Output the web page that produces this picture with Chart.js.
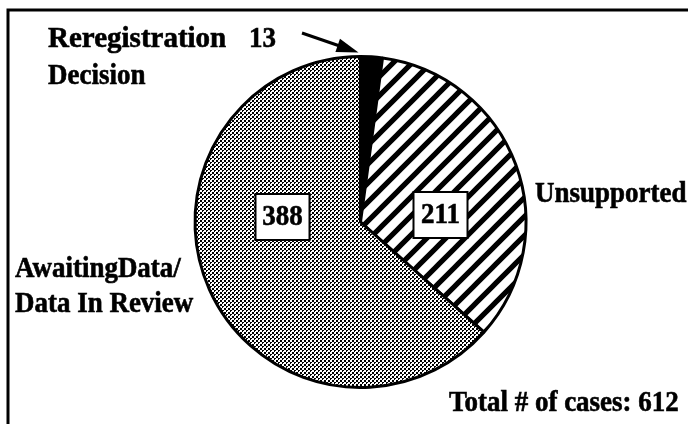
<!DOCTYPE html>
<html>
<head>
<meta charset="utf-8">
<script src="https://cdn.jsdelivr.net/npm/chart.js@4"></script>
<style>
  body { margin: 0; background: #fff; }
  #wrap { width: 688px; height: 424px; }
</style>
</head>
<body>
<div id="wrap"><canvas id="chartCases" width="688" height="424"></canvas></div>
<script>
const categories = ['Reregistration Decision', 'Unsupported', 'AwaitingData/ Data In Review'];
const caseCounts = [13, 211, 388];
const totalLabel = 'Total # of cases: ' + caseCounts.reduce((a, b) => a + b, 0);

const labelFont = 'bold 29px "Liberation Serif", "Times New Roman", serif';

// hatch pattern for Unsupported
function makeHatch() {
    const s = 19;
    const c = document.createElement('canvas');
    c.width = s; c.height = s;
    const g = c.getContext('2d');
    g.fillStyle = '#fff';
    g.fillRect(0, 0, s, s);
    g.strokeStyle = '#000';
    g.lineWidth = 5.2;
    g.beginPath();
    g.moveTo(0, s); g.lineTo(s, 0);
    g.moveTo(-s / 2, s / 2); g.lineTo(s / 2, -s / 2);
    g.moveTo(s / 2, s * 1.5); g.lineTo(s * 1.5, s / 2);
    g.stroke();
    return g.createPattern(c, 'repeat');
}

// stipple pattern for Awaiting Data
function makeStipple() {
    const c = document.createElement('canvas');
    c.width = 4; c.height = 4;
    const g = c.getContext('2d');
    g.fillStyle = '#fff';
    g.fillRect(0, 0, 4, 4);
    g.fillStyle = '#000';
    [[0, 0], [1, 0], [0, 1], [1, 1], [2, 2], [3, 2], [2, 3]].forEach(([x, y]) => g.fillRect(x, y, 1, 1));
    return g.createPattern(c, 'repeat');
}

// text a bit narrower and heavier, like the scanned original
function label(ctx, text, x, y, align, sx) {
    ctx.save();
    ctx.translate(x, y);
    ctx.scale(sx || 0.93, 1);
    ctx.textAlign = align || 'left';
    ctx.fillText(text, 0, 0);
    ctx.lineWidth = 0.6;
    ctx.strokeText(text, 0, 0);
    ctx.restore();
}

const annotations = {
    id: 'annotations',
    afterDraw(chart) {
        const ctx = chart.ctx;
        const arc = chart.getDatasetMeta(0).data[0];
        const cx = arc.x, cy = arc.y;
        ctx.save();

        // frame
        ctx.strokeStyle = '#000';
        ctx.lineWidth = 3;
        ctx.beginPath();
        ctx.moveTo(8, 430); ctx.lineTo(8, 10); ctx.lineTo(690, 10);
        ctx.stroke();

        ctx.fillStyle = '#000';
        ctx.font = labelFont;
        ctx.textBaseline = 'alphabetic';
        const rr = categories[0].split(' ');
        label(ctx, rr[0], 48, 47, 'left', 1.0);
        label(ctx, String(caseCounts[0]), 249, 47);
        label(ctx, rr[1], 48, 84);
        label(ctx, categories[1], 535, 202);
        const aw = categories[2].split('/ ');
        label(ctx, aw[0] + '/', 15, 277);
        label(ctx, aw[1], 15, 312);
        label(ctx, totalLabel, 449, 411);

        // arrow to the small slice
        const tipX = cx - 2, tipY = cy - arc.outerRadius - 4;
        const sx = 302, sy = 33;
        const ang = Math.atan2(tipY - sy, tipX - sx);
        ctx.lineWidth = 3;
        ctx.beginPath();
        ctx.moveTo(sx, sy);
        ctx.lineTo(tipX - 16 * Math.cos(ang), tipY - 16 * Math.sin(ang));
        ctx.stroke();
        ctx.beginPath();
        ctx.moveTo(tipX, tipY);
        ctx.lineTo(tipX - 22 * Math.cos(ang) + 7 * Math.sin(ang), tipY - 22 * Math.sin(ang) - 7 * Math.cos(ang));
        ctx.lineTo(tipX - 22 * Math.cos(ang) - 7 * Math.sin(ang), tipY - 22 * Math.sin(ang) + 7 * Math.cos(ang));
        ctx.closePath();
        ctx.fill();

        // value boxes
        const boxes = [[2, cx - 78, cy - 5], [1, cx + 80, cy - 7]];
        boxes.forEach(([i, bx, by]) => {
            const w = 54, h = 46;
            ctx.fillStyle = '#fff';
            ctx.fillRect(bx - w / 2, by - h / 2, w, h);
            ctx.lineWidth = 2;
            ctx.strokeRect(bx - w / 2, by - h / 2, w, h);
            ctx.fillStyle = '#000';
            ctx.textBaseline = 'middle';
            label(ctx, String(caseCounts[i]), bx, by + 1, 'center');
        });
        ctx.restore();
    }
};

new Chart(document.getElementById('chartCases'), {
    type: 'pie',
    data: {
        labels: categories,
        datasets: [{
            data: caseCounts,
            backgroundColor: ['#000', makeHatch(), makeStipple()],
            borderColor: '#000',
            borderWidth: 3
        }]
    },
    options: {
        responsive: false,
        animation: false,
        layout: { padding: { left: 193, right: 160, top: 55, bottom: 35 } },
        plugins: {
            legend: { display: false },
            tooltip: { enabled: false }
        }
    },
    plugins: [annotations]
});
</script>
</body>
</html>
